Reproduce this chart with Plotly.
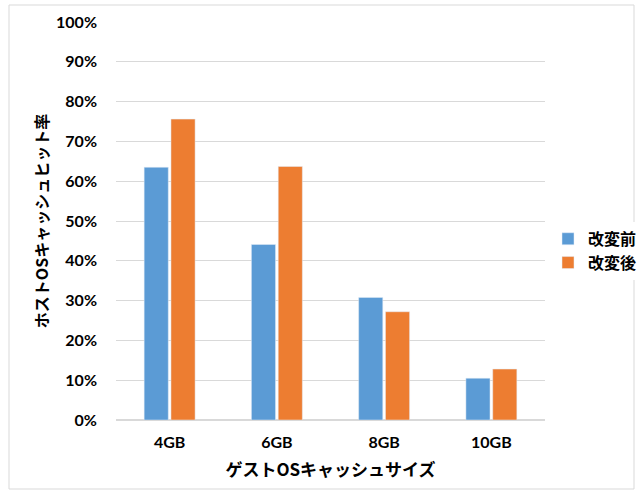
import plotly.graph_objects as go

categories = ["4GB", "6GB", "8GB", "10GB"]
before = [0.635, 0.441, 0.308, 0.105]
after = [0.756, 0.637, 0.272, 0.128]
series_names = ["改変前", "改変後"]
y_ticks = [0, 0.1, 0.2, 0.3, 0.4, 0.5, 0.6, 0.7, 0.8, 0.9, 1.0]
y_tick_labels = ["0%", "10%", "20%", "30%", "40%", "50%", "60%", "70%", "80%", "90%", "100%"]

FONT = "Lato, 'Noto Sans CJK JP', sans-serif"
JP = "'Noto Sans CJK JP', sans-serif"

fig = go.Figure()
fig.add_trace(go.Bar(x=categories, y=before, name=series_names[0], marker_color="#5B9BD5"))
fig.add_trace(go.Bar(x=categories, y=after, name=series_names[1], marker_color="#ED7D31"))

fig.update_layout(
    width=643, height=495,
    margin=dict(l=116, r=98, t=22, b=75, autoexpand=False),
    paper_bgcolor="white", plot_bgcolor="white",
    barmode="group", bargap=0.5, bargroupgap=0.1,
    font=dict(family=FONT, size=15, color="#000000"),
    legend=dict(x=1.007, y=0.425, xanchor="left", yanchor="middle",
                font=dict(family=JP, size=16, weight="bold"),
                itemwidth=30, tracegroupgap=8),
    xaxis=dict(showgrid=False, showline=False, ticks="",
               ticklabelstandoff=11,
               tickfont=dict(family=FONT, size=16, weight="bold"),
               title=dict(text="ゲストOSキャッシュサイズ", standoff=14,
                          font=dict(family=JP, size=17, weight="bold"))),
    yaxis=dict(range=[0, 1.0], tickvals=y_ticks, ticktext=y_tick_labels,
               showgrid=True, gridcolor="#D9D9D9", gridwidth=1,
               zeroline=True, zerolinecolor="#D9D9D9", showline=False, ticks="",
               ticklabelstandoff=18,
               tickfont=dict(family=FONT, size=16, weight="bold"),
               title=dict(text="ホストOSキャッシュヒット率", standoff=3,
                          font=dict(family=JP, size=16, weight="bold"))),
)

fig.add_shape(type="rect", xref="paper", yref="paper",
              x0=(9 - 116) / 429, x1=(634 - 116) / 429,
              y0=(420 - 489) / 398, y1=(420 - 5) / 398,
              line=dict(color="#D9D9D9", width=1), fillcolor="rgba(0,0,0,0)", layer="below")

fig.write_html("out.html")
